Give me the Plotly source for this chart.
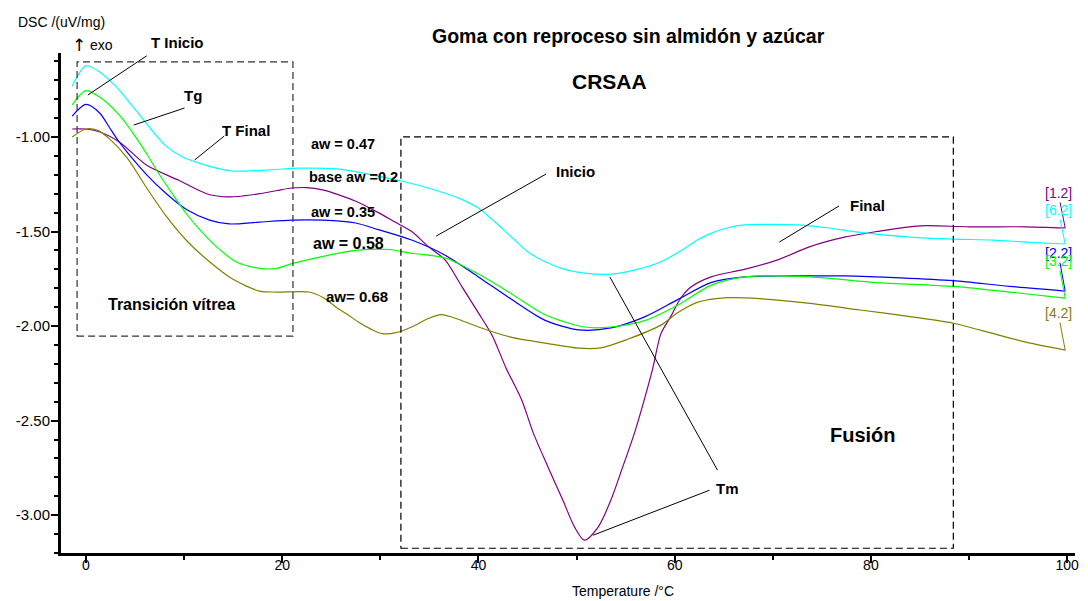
import plotly.graph_objects as go

# DSC curves, one per water activity (temperature in °C, DSC in uV/mg)
t_12 = [-1.4, 0, 1.5, 3.5, 6.2, 9.5, 12.3, 14.3, 16, 17.7, 19.5, 21, 22.5, 24.1, 26, 27.5,
        29.8, 31.5, 33.2, 34.9, 36.6, 38.3, 40, 41.4, 42.8, 44.4, 45.6, 47.1, 48.6, 49.8,
        50.8, 52.2, 53.5, 54.7, 55.9, 56.9, 57.8, 58.6, 59.6, 60.5, 61.5, 63.7, 67.1, 70.5,
        73.8, 77.3, 80.6, 85, 90, 95.8, 99.8]
dsc_12 = [-0.958, -0.958, -0.975, -1.03, -1.15, -1.23, -1.30, -1.317, -1.312, -1.30, -1.283,
          -1.27, -1.268, -1.28, -1.31, -1.34, -1.40, -1.45, -1.50, -1.58, -1.65, -1.79, -1.93,
          -2.05, -2.22, -2.39, -2.566, -2.746, -2.92, -3.063, -3.132, -3.063, -2.92, -2.746,
          -2.566, -2.39, -2.217, -2.04, -1.95, -1.862, -1.80, -1.74, -1.70, -1.65, -1.58,
          -1.53, -1.50, -1.47, -1.475, -1.475, -1.481]

t_62 = [-1.4, 0, 1.4, 3.1, 4.8, 6.5, 8.2, 9.8, 11.6, 13.3, 14.9, 18.4, 21.7, 25.8, 29.1,
        31.9, 34.9, 38.3, 40, 41.7, 43.4, 45.1, 46.8, 48.8, 50.8, 53.5, 56.2, 58.6, 61,
        62.3, 63.7, 65.4, 67.1, 72.5, 75.5, 78.9, 84, 88.4, 92.5, 95.8, 99.8]
dsc_62 = [-0.73, -0.624, -0.656, -0.735, -0.84, -0.95, -1.05, -1.105, -1.14, -1.165, -1.18,
          -1.175, -1.165, -1.17, -1.20, -1.23, -1.27, -1.33, -1.376, -1.45, -1.53, -1.61,
          -1.66, -1.70, -1.72, -1.725, -1.70, -1.66, -1.59, -1.545, -1.51, -1.48, -1.465,
          -1.465, -1.48, -1.505, -1.53, -1.54, -1.545, -1.556, -1.566]

t_22 = [-1.4, 0, 1.4, 2.4, 3.3, 4.2, 6.2, 8.2, 10.3, 12.6, 14.6, 17.7, 21, 24.1, 27.5,
        29.8, 33.2, 36.6, 40, 43.4, 46.8, 50.2, 53.5, 57, 60.3, 63.7, 67.1, 72, 77.3, 83,
        88.4, 94.1, 99.8]
dsc_22 = [-0.89, -0.828, -0.873, -0.95, -1.02, -1.08, -1.20, -1.30, -1.385, -1.44, -1.46,
          -1.45, -1.44, -1.44, -1.455, -1.49, -1.545, -1.625, -1.74, -1.86, -1.97, -2.02,
          -2.01, -1.95, -1.86, -1.77, -1.74, -1.735, -1.735, -1.745, -1.76, -1.79, -1.815]

t_32 = [-1.4, 0, 1.7, 3.5, 5.2, 6.2, 7.5, 8.8, 10.3, 11.6, 13.3, 15.3, 17.7, 19.4, 21,
        23.8, 27.5, 30.9, 33.2, 36.6, 40, 43.4, 46.8, 50.8, 53.5, 57, 60.3, 63.7, 67.1,
        73.8, 80.6, 88.4, 94.1, 99.8]
dsc_32 = [-0.83, -0.755, -0.80, -0.89, -1.01, -1.09, -1.20, -1.30, -1.41, -1.49, -1.58,
          -1.66, -1.695, -1.695, -1.67, -1.635, -1.60, -1.595, -1.615, -1.64, -1.725, -1.83,
          -1.94, -2.005, -2.005, -1.97, -1.89, -1.785, -1.74, -1.74, -1.77, -1.79, -1.82,
          -1.852]

t_42 = [-1.4, 0, 1.2, 2.4, 4.2, 6.2, 8.2, 10.3, 12.6, 14.9, 17.7, 19.5, 22.7, 24.2, 25.5,
        26.7, 27.8, 29, 30.2, 31.6, 33.2, 34.9, 36.2, 38, 40, 43.4, 46.8, 50.2, 52.5, 55.2,
        58.6, 60.3, 62.3, 65.4, 68.7, 73.8, 78.9, 84, 88.4, 92.5, 95.8, 99.8]
dsc_42 = [-1.00, -0.958, -0.965, -1.01, -1.11, -1.27, -1.42, -1.55, -1.66, -1.75, -1.815,
          -1.82, -1.82, -1.85, -1.90, -1.94, -1.98, -2.015, -2.04, -2.035, -2.005, -1.96,
          -1.94, -1.965, -2.005, -2.06, -2.09, -2.117, -2.115, -2.07, -1.995, -1.93, -1.875,
          -1.85, -1.855, -1.88, -1.915, -1.95, -1.985, -2.04, -2.085, -2.127]

series_tags = ["[1.2]", "[6.2]", "[2.2]", "[3.2]", "[4.2]"]
series_colors = ["#800080", "#00FFFF", "#0000FF", "#00FF00", "#808000"]
series_t = [t_12, t_62, t_22, t_32, t_42]
series_dsc = [dsc_12, dsc_62, dsc_22, dsc_32, dsc_42]
# pixel offsets of each end tag relative to the curve end
tag_offsets = [(-7, -35), (-7, -34), (-7, -38), (-7, -37), (-7, -37)]

x_ticks = [0, 20, 40, 60, 80, 100]
y_ticks = [-1.0, -1.5, -2.0, -2.5, -3.0]
y_ticktext = ["-1.00", "-1.50", "-2.00", "-2.50", "-3.00"]

FONT = "Arial, Liberation Sans, sans-serif"

fig = go.Figure()
for tag, col, tt, dd in zip(series_tags, series_colors, series_t, series_dsc):
    fig.add_trace(go.Scatter(x=tt, y=dd, mode="lines", name=tag,
                             line=dict(color=col, width=1.2, shape="spline", smoothing=0.8),
                             showlegend=False, hoverinfo="skip"))

annotations = []
# end-of-curve tags with coloured leader lines
for tag, col, tt, dd, (ax, ay) in zip(series_tags, series_colors, series_t, series_dsc, tag_offsets):
    annotations.append(dict(x=tt[-1], y=dd[-1], xref="x", yref="y", text=tag,
                            showarrow=True, arrowhead=0, arrowwidth=1, arrowcolor=col,
                            ax=ax, ay=ay, font=dict(family=FONT, size=14, color=col)))

# bold labels inside the plot (data coordinates)
bold_labels = [
    ("Tg", 10.9, -0.783, 15),
    ("T Final", 16.35, -0.968, 15),
    ("aw = 0.47", 26.2, -1.037, 14.5),
    ("base aw =0.2", 27.3, -1.212, 14.5),
    ("aw = 0.35", 26.2, -1.397, 14.5),
    ("aw = 0.58", 26.8, -1.561, 16),
    ("aw= 0.68", 27.6, -1.841, 15),
    ("Transición vítrea", 8.7, -1.884, 16),
    ("Inicio", 49.85, -1.185, 15),
    ("Final", 79.7, -1.36, 15),
    ("Fusión", 79.2, -2.577, 20),
    ("Tm", 65.4, -2.857, 15),
    ("CRSAA", 53.4, -0.709, 21),
]
for txt, xx, yy, sz in bold_labels:
    annotations.append(dict(x=xx, y=yy, xref="x", yref="y", text="<b>%s</b>" % txt,
                            showarrow=False, font=dict(family=FONT, size=sz, color="black")))

# labels above and below the plotting area (paper coordinates)
paper_labels = [
    ("<b>Goma con reproceso sin almidón y azúcar</b>", 0.56, 1.034, "center", 19.5, FONT),
    ("<b>T Inicio</b>", 0.115, 1.02, "center", 15, FONT),
    ("DSC /(uV/mg)", 0.0, 1.062, "center", 14, FONT),
    ("↑", 0.0182, 1.017, "center", 17, "DejaVu Sans, sans-serif"),
    ("exo", 0.0265, 1.016, "left", 14, FONT),
    ("Temperature /°C", 0.554, -0.076, "center", 14, FONT),
]
for txt, xx, yy, xa, sz, fam in paper_labels:
    annotations.append(dict(x=xx, y=yy, xref="paper", yref="paper", text=txt,
                            xanchor=xa, yanchor="middle", showarrow=False,
                            font=dict(family=fam, size=sz, color="black")))

# black leader lines (data coordinates)
leaders = [
    (6.19, -0.571, 0.2, -0.778),
    (10.05, -0.847, 4.87, -0.937),
    (14.1, -0.995, 11.07, -1.122),
    (46.9, -1.196, 35.7, -1.524),
    (76.75, -1.365, 70.66, -1.556),
    (53.4, -1.741, 64.37, -2.762),
    (51.68, -3.106, 63.55, -2.868),
]
shapes = [dict(type="line", xref="x", yref="y", x0=a, y0=b, x1=c, y1=d,
               line=dict(color="black", width=1)) for a, b, c, d in leaders]
# dashed regions: glass transition and melting
shapes += [
    dict(type="rect", xref="x", yref="y", x0=-0.9, x1=21.1, y0=-2.053, y1=-0.603,
         line=dict(color="#333333", width=1.2, dash="7px,4px")),
    dict(type="rect", xref="x", yref="y", x0=32.1, x1=88.4, y0=-3.175, y1=-1.0,
         line=dict(color="black", width=1.2, dash="7px,4px")),
]

fig.update_layout(
    width=1088, height=601,
    margin=dict(l=61, r=9, t=53, b=48),
    paper_bgcolor="white", plot_bgcolor="white",
    font=dict(family=FONT, size=14, color="black"),
    annotations=annotations, shapes=shapes,
    xaxis=dict(range=[-2.54, 100.8], tickmode="array", tickvals=x_ticks,
               showline=True, linewidth=3, linecolor="black", showgrid=False, zeroline=False,
               ticks="outside", ticklen=7, tickwidth=2, tickcolor="black",
               tickfont=dict(size=14), ticklabelstandoff=-10,
               minor=dict(tickmode="linear", tick0=0, dtick=10, ticks="outside",
                          ticklen=4, tickwidth=2, tickcolor="black", showgrid=False)),
    yaxis=dict(range=[-3.2, -0.556], tickmode="array", tickvals=y_ticks, ticktext=y_ticktext,
               showline=True, linewidth=3, linecolor="black", showgrid=False, zeroline=False,
               ticks="outside", ticklen=7, tickwidth=2, tickcolor="black",
               tickfont=dict(size=15), ticklabelstandoff=-2,
               minor=dict(tickmode="linear", tick0=-3.2, dtick=0.1, ticks="outside",
                          ticklen=4, tickwidth=2, tickcolor="black", showgrid=False)),
)

fig.write_html("out.html")
